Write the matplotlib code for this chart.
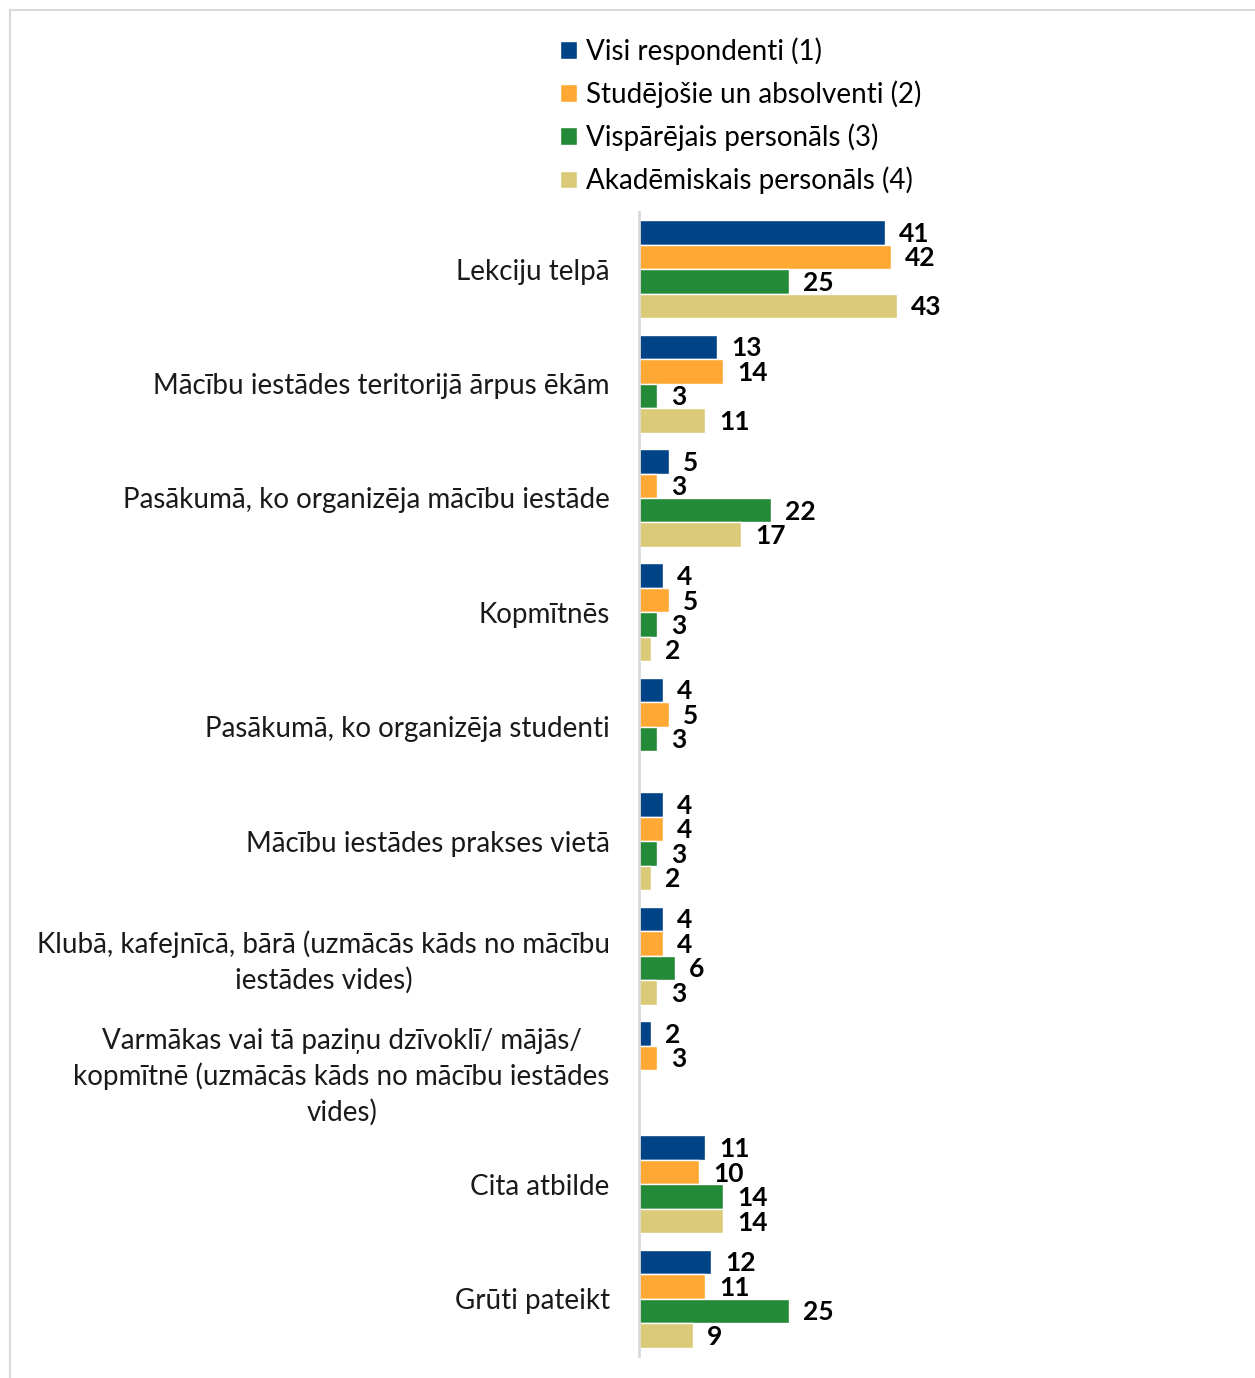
import numpy as np
import matplotlib.pyplot as plt
from matplotlib.lines import Line2D

plt.rcParams['font.family'] = ['Lato', 'DejaVu Sans']

# data
categories = [
    'Lekciju telpā',
    'Mācību iestādes teritorijā ārpus ēkām',
    'Pasākumā, ko organizēja mācību iestāde',
    'Kopmītnēs',
    'Pasākumā, ko organizēja studenti',
    'Mācību iestādes prakses vietā',
    'Klubā, kafejnīcā, bārā (uzmācās kāds no mācību\niestādes vides)',
    'Varmākas vai tā paziņu dzīvoklī/ mājās/\nkopmītnē (uzmācās kāds no mācību iestādes\nvides)',
    'Cita atbilde',
    'Grūti pateikt',
]
series_names = ['Visi respondenti (1)', 'Studējošie un absolventi (2)',
                'Vispārējais personāls (3)', 'Akadēmiskais personāls (4)']
visi = [41, 13, 5, 4, 4, 4, 4, 2, 11, 12]
studejosie = [42, 14, 3, 5, 5, 4, 4, 3, 10, 11]
visparejais = [25, 3, 22, 3, 3, 3, 6, np.nan, 14, 25]
akademiskais = [43, 11, 17, 2, np.nan, 2, 3, np.nan, 14, 9]
colors = ['#004387', '#FFA833', '#238A38', '#DBCB78']

W, H = 1255, 1378
fig = plt.figure(figsize=(W / 100, H / 100), dpi=100)
ax = fig.add_axes([639 / W, 22 / H, 600 / W, 1144 / H])

y = np.arange(len(categories))
step = 0.214
all_series = [visi, studejosie, visparejais, akademiskais]
for i, (vals, name, col) in enumerate(zip(all_series, series_names, colors)):
    pos = y + (i - 1.5) * step
    ax.barh(pos, vals, height=step, color=col, edgecolor='white',
            linewidth=1.0, label=name)
    for p, v in zip(pos, vals):
        if np.isnan(v):
            continue
        ax.annotate(f'{v:.0f}', xy=(v, p), xytext=(10, -1), textcoords='offset points',
                    ha='left', va='center', fontsize=19, fontweight='bold', color='black')

ax.set_xlim(0, 100)
ax.set_ylim(len(categories) - 0.5, -0.5)
ax.set_yticks(y)
ax.set_yticklabels(categories, fontsize=20, color='#1a1a1a')
for t in ax.get_yticklabels():
    t.set_multialignment('center')
    t.set_linespacing(1.4)
ax.tick_params(axis='y', length=0, pad=21)
ax.set_xticks([])
for s in ['top', 'right', 'bottom']:
    ax.spines[s].set_visible(False)
ax.spines['left'].set_color('#d9d9d9')
ax.spines['left'].set_linewidth(2)

handles, labels = ax.get_legend_handles_labels()
fig.legend(handles, labels, loc='upper left', bbox_to_anchor=(549 / W, 1 - 26 / H),
           frameon=False, fontsize=20, handlelength=0.6, handleheight=0.6,
           handletextpad=0.35, labelspacing=0.56, borderaxespad=0)

# thin frame around the picture (only top and left edges are visible)
fig.add_artist(Line2D([10 / W, 1], [1 - 10 / H, 1 - 10 / H], color='#d9d9d9', lw=1.5))
fig.add_artist(Line2D([10 / W, 10 / W], [0, 1 - 10 / H], color='#d9d9d9', lw=1.5))

fig.savefig('out.png', dpi=100)
